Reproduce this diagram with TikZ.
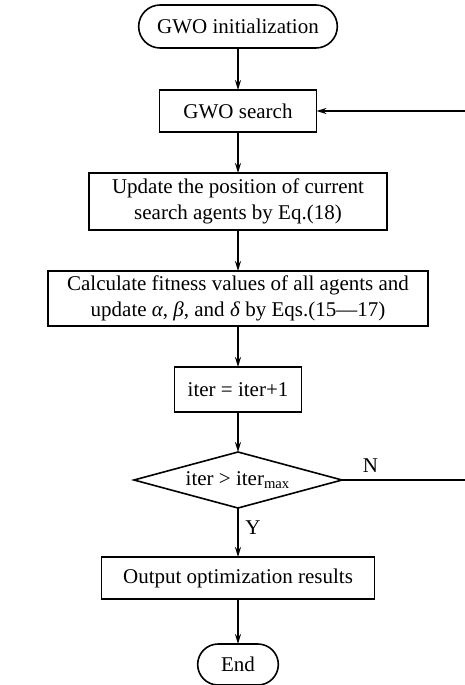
\documentclass[tikz,border=0pt]{standalone}
\usepackage{fontspec}
\setmainfont{Liberation Serif}
\usetikzlibrary{shapes.geometric, shapes.misc, arrows.meta, positioning}
\tikzstyle{terminal} = [rounded rectangle, minimum height=21pt, outer sep=0pt, align=center, draw=black, line width=0.8pt]
\tikzstyle{process} = [rectangle, minimum height=21pt, inner ysep=1pt, outer sep=0pt, align=center, draw=black, line width=0.8pt]
\tikzstyle{decision} = [diamond, aspect=3.7, minimum width=104pt, minimum height=28pt, inner sep=0pt, outer sep=0pt, align=center, draw=black, line width=0.8pt]
\tikzstyle{arrow} = [line width=0.8pt, -{Stealth[length=5pt,width=3pt]}]

\begin{document}
\begin{tikzpicture}[node distance=21pt, font=\fontsize{10.5}{13}\selectfont]
\useasboundingbox (0,0) rectangle (232.5pt,-342.5pt);

% Start node
\node (init) [terminal, minimum width=106pt, minimum height=21.5pt] at (119pt,-13.25pt) {GWO initialization};

% Search loop
\node (search) [process, minimum width=78.5pt, below=21pt of init] {GWO search};
\node (update) [process, minimum width=149pt, minimum height=28.5pt, below=20.5pt of search] {Update the position of current\\search agents by Eq.(18)};
\node (fitness) [process, minimum width=190pt, minimum height=27.5pt, below=20.5pt of update] {Calculate fitness values of all agents and\\update \textit{α}, \textit{β}, and \textit{δ} by Eqs.(15—17)};
\node (iter) [process, minimum width=63.5pt, minimum height=22.5pt, below=20.5pt of fitness] {iter = iter+1};

% Stop check
\node (check_iter) [decision, below=20pt of iter] {iter > iter\textsubscript{max}};

% Output
\node (output) [process, minimum width=136.5pt, below=24.5pt of check_iter] {Output optimization results};
\node (end) [terminal, minimum width=47pt, minimum height=20.5pt, below=22.5pt of output] {End};

% Feedback corner at the page edge
\coordinate (back_low) at (233pt,0 |- check_iter);
\coordinate (back_high) at (233pt,0 |- search);

% Arrows
\draw [arrow] (init) -- (search);
\draw [arrow] (search) -- (update);
\draw [arrow] (update) -- (fitness);
\draw [arrow] (fitness) -- (iter);
\draw [arrow] (iter) -- (check_iter);
\draw [arrow] (check_iter) -- node[right, pos=0.4] {Y} (output);
\draw [arrow] (output) -- (end);
\draw [arrow] (check_iter.east) -- node[above, pos=0.23] {N} (back_low) -- (back_high) -- (search.east);

\end{tikzpicture}
\end{document}
